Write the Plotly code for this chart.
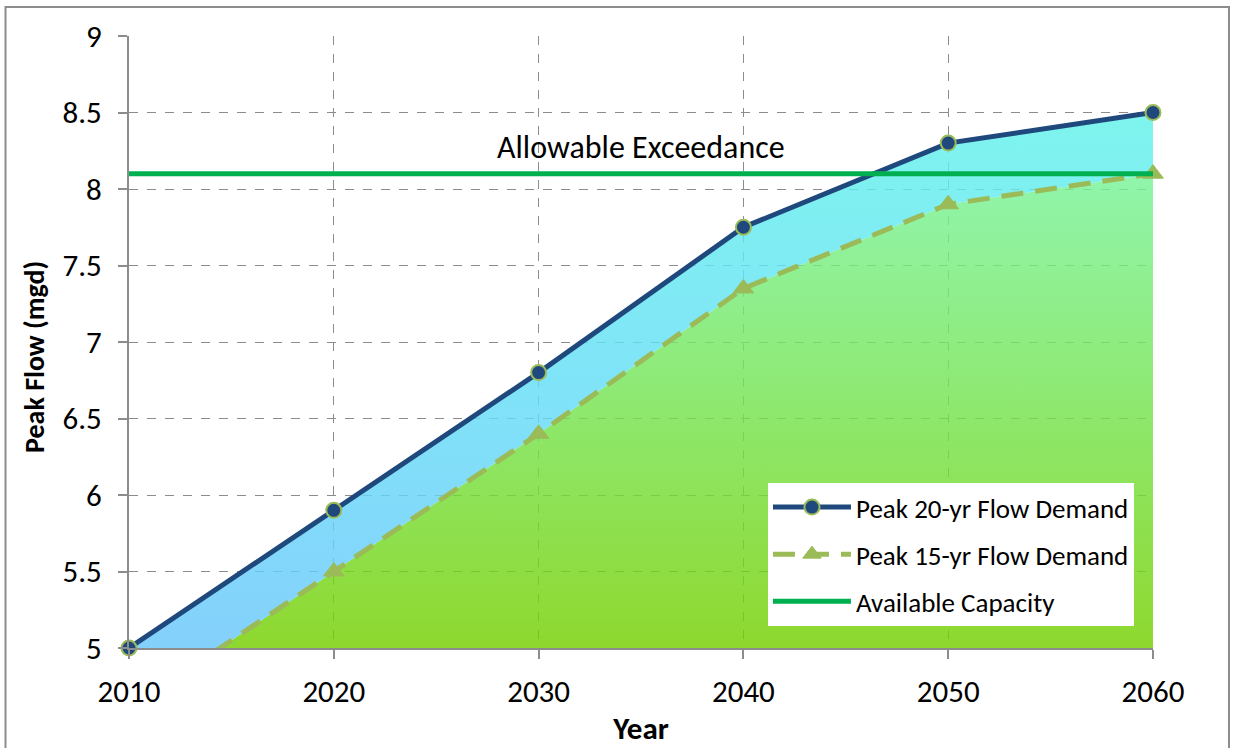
import plotly.graph_objects as go

# Planning horizon and projected peak flows (mgd)
years = [2010, 2020, 2030, 2040, 2050, 2060]
peak_20yr = [5.0, 5.9, 6.8, 7.75, 8.3, 8.5]
peak_15yr = [4.6, 5.5, 6.4, 7.35, 7.9, 8.1]
capacity = 8.1
capacity_years = [2010, 2060]

y_ticks = [5, 5.5, 6, 6.5, 7, 7.5, 8, 8.5, 9]
x_ticks = [2010, 2020, 2030, 2040, 2050, 2060]
Y_MIN, Y_MAX = 5, 9

FONT = "Carlito, Calibri, Lato, sans-serif"
NAVY = "#1f497d"
OLIVE = "#9bbb59"
GREEN = "#00b050"
FILL_ALPHA = 0.82
DASH = "22px,12px"


def see_through(rgb, a=FILL_ALPHA):
    """Colour that looks like `rgb` over white when drawn at opacity `a`."""
    c = [max(0, min(255, round((v - (1 - a) * 255) / a))) for v in rgb]
    return f"rgba({c[0]},{c[1]},{c[2]},{a})"


fig = go.Figure()

# Green band under the 15-yr demand curve
fig.add_trace(go.Scatter(
    x=years, y=peak_15yr, mode="lines", line=dict(width=0),
    fill="tozeroy",
    fillgradient=dict(
        type="vertical", start=5, stop=8.1,
        colorscale=[[0, see_through((142, 216, 30))],
                    [0.5, see_through((142, 232, 110))],
                    [1, see_through((144, 245, 172))]],
    ),
    showlegend=False, hoverinfo="skip",
))

# Blue band between the two demand curves
fig.add_trace(go.Scatter(
    x=years, y=peak_20yr, mode="lines", line=dict(width=0),
    fill="tonexty",
    fillgradient=dict(
        type="vertical", start=5, stop=8.5,
        colorscale=[[0, see_through((132, 208, 252))],
                    [0.5, see_through((128, 228, 248))],
                    [1, see_through((126, 244, 238))]],
    ),
    showlegend=False, hoverinfo="skip",
))

fig.add_trace(go.Scatter(
    x=years, y=peak_20yr, mode="lines+markers", name="Peak 20-yr Flow Demand",
    legendgroup="a",
    line=dict(color=NAVY, width=5),
    marker=dict(symbol="circle", size=15, color=NAVY, line=dict(color=OLIVE, width=2)),
    cliponaxis=False,
))

# 15-yr demand: the line, then markers only for points inside the axis range
fig.add_trace(go.Scatter(
    x=years, y=peak_15yr, mode="lines", name="Peak 15-yr Flow Demand",
    legendgroup="b", showlegend=False,
    line=dict(color=OLIVE, width=5, dash=DASH),
))
vis_years = [x for x, v in zip(years, peak_15yr) if v >= Y_MIN]
vis_15yr = [v for v in peak_15yr if v >= Y_MIN]
fig.add_trace(go.Scatter(
    x=vis_years, y=vis_15yr, mode="markers", name="Peak 15-yr Flow Demand",
    legendgroup="b", showlegend=False,
    marker=dict(symbol="triangle-up", size=18, color=OLIVE, line=dict(color=OLIVE, width=1)),
    cliponaxis=False,
))
# legend entry combining the dashed line and the triangle
fig.add_trace(go.Scatter(
    x=[None], y=[None], mode="lines+markers", name="Peak 15-yr Flow Demand",
    legendgroup="b",
    line=dict(color=OLIVE, width=5, dash=DASH),
    marker=dict(symbol="triangle-up", size=18, color=OLIVE, line=dict(color=OLIVE, width=1)),
))

fig.add_trace(go.Scatter(
    x=capacity_years, y=[capacity, capacity], mode="lines", name="Available Capacity",
    legendgroup="c",
    line=dict(color=GREEN, width=5),
))

fig.add_annotation(
    x=2035.0, y=capacity, yshift=26, text="Allowable Exceedance", showarrow=False,
    font=dict(family=FONT, size=32, color="#000000"),
)

fig.add_annotation(
    xref="paper", yref="paper", x=-0.0918, y=0.4755, textangle=-90,
    xanchor="center", yanchor="middle",
    text="<b>Peak Flow (mgd)</b>", showarrow=False,
    font=dict(family=FONT, size=28, color="#000000"),
)

# Outer chart border
fig.add_shape(
    type="rect", xref="paper", yref="paper",
    x0=-0.1206, x1=1.0742, y0=-0.17, y1=1.0474,
    line=dict(color="#8c8c8c", width=2), fillcolor="rgba(0,0,0,0)", layer="below",
)

axis_common = dict(
    showline=True, linecolor="#8c8c8c", linewidth=2,
    ticks="outside", ticklen=9, tickcolor="#8c8c8c", tickwidth=2,
    showgrid=True, gridcolor="#8c8c8c", gridwidth=1, griddash="dash",
    tickfont=dict(family=FONT, size=31, color="#000000"),
    zeroline=False, automargin=False,
)

fig.update_xaxes(
    range=[2010, 2060], tickvals=x_ticks, ticktext=[str(v) for v in x_ticks],
    title=dict(text="<b>Year</b>", font=dict(family=FONT, size=31, color="#000000"), standoff=8),
    ticklabelstandoff=6,
    **axis_common,
)
fig.update_yaxes(
    range=[Y_MIN, Y_MAX], tickvals=y_ticks, ticktext=[f"{v:g}" for v in y_ticks],
    ticklabelstandoff=10,
    **axis_common,
)

fig.update_layout(
    width=1233, height=748,
    margin=dict(l=129, r=80, t=36, b=100),
    paper_bgcolor="#ffffff", plot_bgcolor="#ffffff",
    font=dict(family=FONT, color="#000000"),
    legend=dict(
        x=0.624, y=0.2696, xanchor="left", yanchor="top",
        bgcolor="#ffffff", borderwidth=0,
        font=dict(family=FONT, size=27, color="#000000"),
        itemwidth=78, traceorder="grouped", tracegroupgap=9,
    ),
    showlegend=True,
)

fig.write_html("out.html")
